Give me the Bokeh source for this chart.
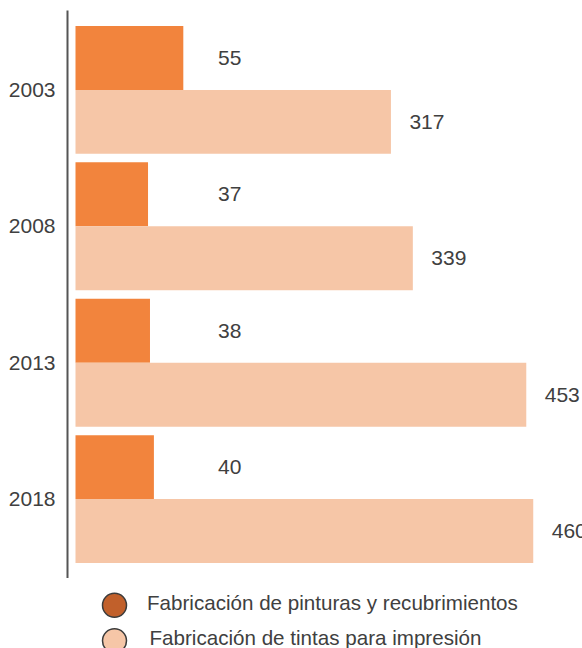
from bokeh.plotting import figure
from bokeh.models import ColumnDataSource, FactorRange, Range1d
from bokeh.transform import dodge
from bokeh.core.properties import value
from bokeh.layouts import column
from bokeh.embed import file_html
from bokeh.resources import INLINE

# ---- data ----
years = ["2003", "2008", "2013", "2018"]
pinturas = [55, 37, 38, 40]
tintas = [317, 339, 453, 460]
series_names = ["Fabricación de pinturas y recubrimientos",
                "Fabricación de tintas para impresión"]

DARK = "#F2843D"
LIGHT = "#F6C6A7"
LEG_DARK = "#C1602B"
TXT = "#404040"
FONT = "Liberation Sans"

src = ColumnDataSource(dict(
    year=years,
    pint=pinturas,
    tint=tintas,
    pint_txt=[str(v) for v in pinturas],
    tint_txt=[str(v) for v in tintas],
))

p = figure(width=582, height=578, output_backend="svg", toolbar_location=None,
           y_range=FactorRange(factors=list(reversed(years)), range_padding=0.041),
           x_range=Range1d(-8.04, 509.5), x_axis_location=None,
           min_border_left=67, min_border_right=0, min_border_top=10, min_border_bottom=0)
p.extra_x_ranges = {"dark": Range1d(-8.04 * 0.995 / 1.96, 509.5 * 0.995 / 1.96)}
p.outline_line_color = None
p.xgrid.visible = False
p.ygrid.visible = False

bh = 0.469
off = 0.2345
p.hbar(y=dodge("year", off, range=p.y_range), left=0, right="pint", height=bh,
       source=src, fill_color=DARK, line_color=None, x_range_name="dark")
p.hbar(y=dodge("year", -off, range=p.y_range), left=0, right="tint", height=bh,
       source=src, fill_color=LIGHT, line_color=None)

p.text(x=155, y=dodge("year", off, range=p.y_range), text="pint_txt", source=src,
       text_align="center", text_baseline="middle", text_font=value(FONT),
       text_font_size="21px", text_color=TXT)
p.text(x="tint", y=dodge("year", -off, range=p.y_range), text="tint_txt", source=src,
       x_offset=36, text_align="center", text_baseline="middle", text_font=value(FONT),
       text_font_size="21px", text_color=TXT)

ax = p.yaxis[0]
ax.axis_line_color = "#555555"
ax.axis_line_width = 2
ax.major_tick_line_color = None
ax.minor_tick_line_color = None
ax.major_tick_out = 0
ax.major_tick_in = 0
ax.major_label_standoff = 12
ax.major_label_text_font = FONT
ax.major_label_text_font_size = "21px"
ax.major_label_text_color = TXT

# ---- legend figure ----
leg = figure(width=582, height=70, output_backend="svg", toolbar_location=None,
             x_range=Range1d(67, 582), y_range=Range1d(70, 0),
             x_axis_location=None, y_axis_location=None,
             min_border_left=67, min_border_right=0, min_border_top=0, min_border_bottom=0)
leg.outline_line_color = None
leg.xgrid.visible = False
leg.ygrid.visible = False

lsrc = ColumnDataSource(dict(
    cx=[114, 114], cy=[26.7, 62.3], tx=[146.5, 149], ty=[24.2, 59.2],
    fill=[LEG_DARK, LIGHT], name=series_names,
))
leg.scatter(x="cx", y="cy", size=24, marker="circle", fill_color="fill",
            line_color="#3c3c3c", line_width=1.5, source=lsrc)
leg.text(x="tx", y="ty", text="name", source=lsrc, text_align="left",
         text_baseline="middle", text_font=value(FONT), text_font_size="20.6px",
         text_color=TXT)

layout = column(p, leg, spacing=0)
open("out.html", "w").write(file_html(layout, INLINE))
